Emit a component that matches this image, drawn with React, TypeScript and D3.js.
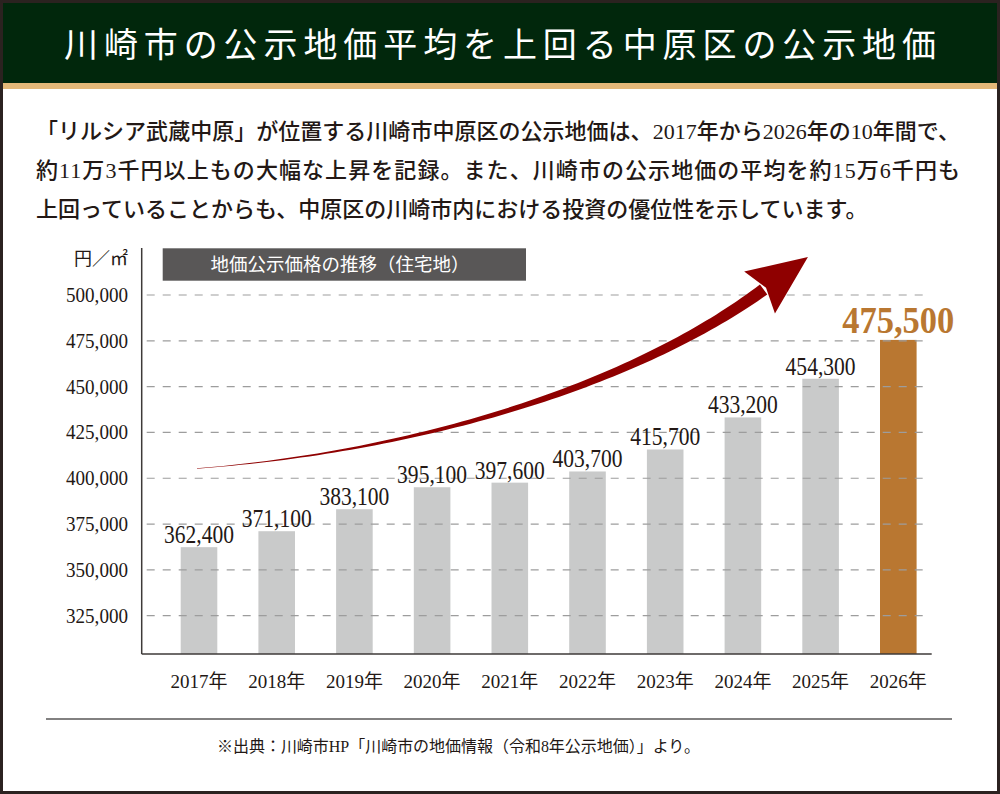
import React, { useEffect } from "react";
import * as d3 from "d3";

// ---- data ----
const years = ["2017年", "2018年", "2019年", "2020年", "2021年", "2022年", "2023年", "2024年", "2025年", "2026年"];
const values = [362400, 371100, 383100, 395100, 397600, 403700, 415700, 433200, 454300, 475500];
const yTicks = [325000, 350000, 375000, 400000, 425000, 450000, 475000, 500000];
const highlightYear = "2026年";

const titleText = "川崎市の公示地価平均を上回る中原区の公示地価";
const bodyLines = [
  "「リルシア武蔵中原」が位置する川崎市中原区の公示地価は、2017年から2026年の10年間で、",
  "約11万3千円以上もの大幅な上昇を記録。また、川崎市の公示地価の平均を約15万6千円も",
  "上回っていることからも、中原区の川崎市内における投資の優位性を示しています。",
];
const legendText = "地価公示価格の推移（住宅地）";
const unitText = "円／㎡";
const sourceText = "※出典：川崎市HP「川崎市の地価情報（令和8年公示地価）」より。";

const W = 1000;
const H = 794;
const SERIF = "'Liberation Serif', 'Noto Sans CJK JP', serif";
const CJK = "'Noto Sans CJK JP', sans-serif";
const INK = "#231815";

export default function App() {
  useEffect(() => {
    document.body.style.margin = "0";
  }, []);

  const axisX = 141.7;
  const axisBottom = 654;
  const axisTop = 248;

  const x = d3
    .scaleBand<string>()
    .domain(years)
    .range([axisX, 955.6])
    .paddingInner(0.529)
    .paddingOuter(0.502);

  const y = d3.scaleLinear().domain([325000, 500000]).range([615.7, 295]);

  const bw = x.bandwidth();
  const cx = (yr: string) => (x(yr) as number) + bw / 2;

  // decorative arrow, anchored to the scales
  const P0: [number, number] = [cx(years[0]) - 2, y(405300)];
  const P1: [number, number] = [cx(years[3]), y(415400)];
  const P2: [number, number] = [cx(years[6]) - 25, y(453600)];
  const P3: [number, number] = [cx(years[8]) - 57, y(503000)];
  const bez = (t: number) => {
    const u = 1 - t;
    return [
      u * u * u * P0[0] + 3 * u * u * t * P1[0] + 3 * u * t * t * P2[0] + t * t * t * P3[0],
      u * u * u * P0[1] + 3 * u * u * t * P1[1] + 3 * u * t * t * P2[1] + t * t * t * P3[1],
    ];
  };
  const dbez = (t: number) => {
    const u = 1 - t;
    return [
      3 * u * u * (P1[0] - P0[0]) + 6 * u * t * (P2[0] - P1[0]) + 3 * t * t * (P3[0] - P2[0]),
      3 * u * u * (P1[1] - P0[1]) + 6 * u * t * (P2[1] - P1[1]) + 3 * t * t * (P3[1] - P2[1]),
    ];
  };
  const N = 80;
  const left: [number, number][] = [];
  const right: [number, number][] = [];
  for (let i = 0; i <= N; i++) {
    const t = i / N;
    const [px, py] = bez(t);
    const [dx, dy] = dbez(t);
    const len = Math.hypot(dx, dy);
    const nx = -dy / len;
    const ny = dx / len;
    const w = 0.4 + 12 * Math.pow(t, 1.25);
    left.push([px + (nx * w) / 2, py + (ny * w) / 2]);
    right.push([px - (nx * w) / 2, py - (ny * w) / 2]);
  }
  const shaftPts = left.concat(right.reverse());
  const shaftPath = d3.line()(shaftPts) + "Z";
  const [ex, ey] = dbez(1);
  const el = Math.hypot(ex, ey);
  const ux = ex / el;
  const uy = ey / el;
  const px = -uy;
  const py = ux;
  const baseC = [P3[0] - 5 * ux, P3[1] - 5 * uy];
  const tip = [baseC[0] + 60 * ux, baseC[1] + 60 * uy];
  const c1 = [baseC[0] + 26 * px, baseC[1] + 26 * py];
  const c2 = [baseC[0] - 26 * px, baseC[1] - 26 * py];
  const notch = [baseC[0] + 8 * ux, baseC[1] + 8 * uy];
  const headPath = d3.line()([tip, c1, notch, c2] as [number, number][]) + "Z";

  return (
    <svg
      width={W}
      height={H}
      viewBox={`0 0 ${W} ${H}`}
      style={{ display: "block", position: "absolute", left: 0, top: 0 }}
    >
      <rect x={0} y={0} width={W} height={H} fill="#ffffff" />
      {/* header */}
      <rect x={0} y={0} width={W} height={83} fill="#01270c" />
      <rect x={0} y={83} width={W} height={6} fill="#e4b879" />
      <text
        x={64}
        y={57}
        fill="#ffffff"
        fontFamily={CJK}
        fontSize={34}
        textLength={872}
        lengthAdjust="spacing"
      >
        {titleText}
      </text>

      {/* body text */}
      {bodyLines.map((line, i) => (
        <text
          key={i}
          x={36}
          y={139 + i * 39}
          fill={INK}
          fontFamily={SERIF}
          fontWeight={500}
          fontSize={22}
          {...(i < 2 ? { textLength: 924, lengthAdjust: "spacing" } : {})}
        >
          {line}
        </text>
      ))}

      {/* legend box */}
      <rect x={162.7} y={248.3} width={363.3} height={32.4} fill="#595757" />
      <text
        x={340}
        y={271}
        fill="#ffffff"
        textAnchor="middle"
        fontFamily={CJK}
        fontSize={18.5}
      >
        {legendText}
      </text>

      {/* unit */}
      <text x={128} y={265} textAnchor="end" fill={INK} fontFamily={SERIF} fontSize={18}>
        {unitText}
      </text>

      {/* bars */}
      {years.map((yr, i) => (
        <rect
          key={yr}
          x={x(yr)}
          y={y(values[i])}
          width={bw}
          height={axisBottom - y(values[i])}
          fill={yr === highlightYear ? "#b97731" : "#c9caca"}
        />
      ))}

      {/* gridlines (over bars) */}
      {yTicks.map((t) => (
        <line
          key={t}
          x1={146.7}
          x2={923}
          y1={y(t)}
          y2={y(t)}
          stroke="#9d9d9d"
          strokeWidth={1.2}
          strokeDasharray="8 8"
        />
      ))}

      {/* y tick labels */}
      {yTicks.map((t) => (
        <text
          key={t}
          x={128}
          y={y(t) + 7}
          textAnchor="end"
          fill={INK}
          fontFamily={SERIF}
          fontSize={21}
          textLength={62}
          lengthAdjust="spacingAndGlyphs"
        >
          {d3.format(",")(t)}
        </text>
      ))}

      {/* axes */}
      <line x1={axisX} x2={axisX} y1={axisTop} y2={axisBottom} stroke="#3e3a39" strokeWidth={1.5} />
      <line x1={axisX} x2={931.7} y1={axisBottom} y2={axisBottom} stroke="#3e3a39" strokeWidth={1.5} />

      {/* arrow */}
      <path d={shaftPath} fill="#8f0000" />
      <path d={headPath} fill="#8f0000" />

      {/* value labels */}
      {years.map((yr, i) =>
        yr === highlightYear ? (
          <text
            key={yr}
            x={cx(yr)}
            y={y(values[i]) - 7}
            textAnchor="middle"
            fill="#b97731"
            fontFamily={SERIF}
            fontWeight="bold"
            fontSize={38}
            textLength={112}
            lengthAdjust="spacingAndGlyphs"
          >
            {d3.format(",")(values[i])}
          </text>
        ) : (
          <text
            key={yr}
            x={cx(yr)}
            y={y(values[i]) - 4}
            textAnchor="middle"
            fill={INK}
            fontFamily={SERIF}
            fontSize={25}
            textLength={70}
            lengthAdjust="spacingAndGlyphs"
          >
            {d3.format(",")(values[i])}
          </text>
        )
      )}

      {/* x labels */}
      {years.map((yr) => (
        <text
          key={yr}
          x={cx(yr)}
          y={688}
          textAnchor="middle"
          fill={INK}
          fontFamily={SERIF}
          fontSize={19}
        >
          {yr}
        </text>
      ))}

      {/* footer */}
      <line x1={46} x2={952} y1={719} y2={719} stroke="#595757" strokeWidth={1.5} />
      <text
        x={217}
        y={752}
        fill={INK}
        fontFamily={SERIF}
        fontSize={16}
        textLength={483}
        lengthAdjust="spacing"
      >
        {sourceText}
      </text>

      {/* outer border */}
      <rect x={1.5} y={1.5} width={W - 3} height={H - 3} fill="none" stroke="#2b2220" strokeWidth={3} />
    </svg>
  );
}
